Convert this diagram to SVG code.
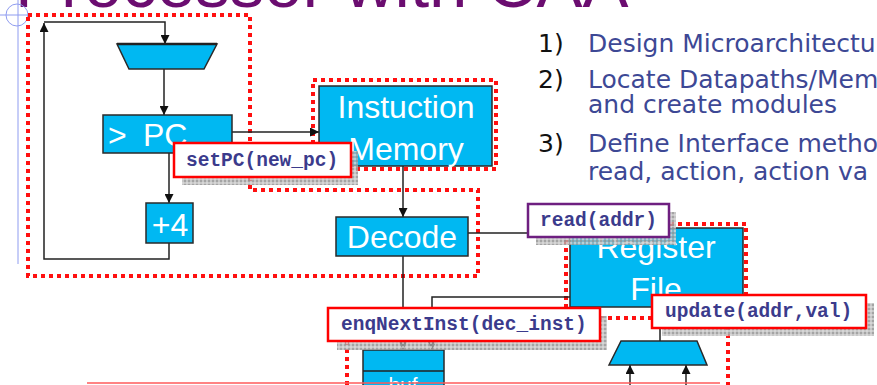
<svg xmlns="http://www.w3.org/2000/svg" width="877" height="385" viewBox="0 0 877 385">
  <style>
    .blk { fill: #00b8f2; stroke: #2a2a2a; stroke-width: 1.5; }
    .blk-t { fill: #ffffff; font-family: "Liberation Sans", Arial, sans-serif; font-size: 32px; text-anchor: middle; }
    .wire { fill: none; stroke: #222222; stroke-width: 1.5; }
    .region { fill: none; stroke: #ff1010; stroke-width: 4; stroke-dasharray: 4 4; }
    .lbl { fill: #ffffff; stroke: #ff0000; stroke-width: 2.5; }
    .lbl-p { fill: #ffffff; stroke: #6e1f80; stroke-width: 2.5; }
    .lbl-t { fill: #3b3b8c; font-family: "Liberation Mono", "Courier New", monospace; font-weight: bold; font-size: 19.5px; }
    .shadow { fill: url(#chk); }
    .list { font-family: "DejaVu Sans", Verdana, sans-serif; font-size: 25px; fill: #3d4895; }
    .num { font-family: "DejaVu Sans", Verdana, sans-serif; font-size: 25px; fill: #111111; }
  </style>
  <defs>
    <pattern id="chk" width="4" height="4" patternUnits="userSpaceOnUse">
      <rect width="4" height="4" fill="#b4b4b4" fill-opacity="0.75"/>
      <rect width="2" height="2" fill="#8c8c8c" fill-opacity="0.6"/>
      <rect x="2" y="2" width="2" height="2" fill="#e0e0e0" fill-opacity="0.6"/>
    </pattern>
    <marker id="arr" viewBox="0 0 10 10" refX="10" refY="5" markerWidth="9" markerHeight="9" markerUnits="userSpaceOnUse" orient="auto">
      <path d="M0,0 L10,5 L0,10 Z" fill="#111111"/>
    </marker>
  </defs>

  <rect width="877" height="385" fill="#ffffff"/>

  <!-- slide title, mostly above the top edge -->
  <text x="15" y="7" font-family="'Liberation Sans', Arial, sans-serif" font-size="69" fill="#6b0d70">Processor with CAA</text>

  <!-- guide crosshair -->
  <g stroke="#8f9cf0" stroke-width="1" fill="none">
    <circle cx="17" cy="15" r="11"/>
    <line x1="18" y1="0" x2="18" y2="264"/>
    <line x1="0" y1="15" x2="30" y2="15"/>
  </g>

  <!-- numbered steps -->
  <g id="steps">
    <text class="num" x="538" y="52">1)</text>
    <text class="list" x="588" y="52">Design Microarchitectu</text>
    <text class="num" x="538" y="88">2)</text>
    <text class="list" x="588" y="88">Locate Datapaths/Mem</text>
    <text class="list" x="588" y="113">and create modules</text>
    <text class="num" x="538" y="152">3)</text>
    <text class="list" x="588" y="152">Define Interface metho</text>
    <text class="list" x="588" y="180">read, action, action va</text>
  </g>

  <!-- module regions -->
  <g id="regions">
    <path class="region" d="M28,15 H250 V190 H478 V276 H28 Z"/>
    <rect class="region" x="313" y="80" width="183" height="89"/>
    <rect class="region" x="566" y="224" width="180" height="94"/>
    <path class="region" d="M347,385 V318 H728 V385"/>
  </g>

  <!-- connectors -->
  <g id="connectors">
    <path class="wire" d="M44,22 H165 V44" marker-end="url(#arr)"/>
    <line class="wire" x1="164" y1="69" x2="164" y2="115" marker-end="url(#arr)"/>
    <line class="wire" x1="169" y1="153" x2="169" y2="203" marker-end="url(#arr)"/>
    <path class="wire" d="M169,243 V259 H44 V23" marker-end="url(#arr)"/>
    <line class="wire" x1="232" y1="132" x2="319" y2="132" marker-end="url(#arr)"/>
    <line class="wire" x1="403" y1="166" x2="403" y2="217" marker-end="url(#arr)"/>
    <line class="wire" x1="468" y1="233" x2="528" y2="233"/>
    <line class="wire" x1="403" y1="256" x2="403" y2="350" marker-end="url(#arr)"/>
    <path class="wire" d="M570,297 H432 V350" marker-end="url(#arr)"/>
    <line class="wire" x1="660" y1="328" x2="660" y2="341"/>
    <line class="wire" x1="630" y1="385" x2="630" y2="365" marker-end="url(#arr)"/>
    <line class="wire" x1="686" y1="385" x2="686" y2="365" marker-end="url(#arr)"/>
  </g>

  <!-- datapath blocks -->
  <g id="pc-mux">
    <polygon class="blk" points="117,44 217,44 204,69 129,69"/>
    <line x1="117" y1="44" x2="217" y2="44" stroke="#222" stroke-width="2.5"/>
  </g>
  <g id="pc">
    <rect class="blk" x="103" y="115" width="129" height="38"/>
    <text x="108" y="146" fill="#fff" font-family="'Liberation Sans', Arial, sans-serif" font-size="32">&gt;</text>
    <text x="143" y="146" fill="#fff" font-family="'Liberation Sans', Arial, sans-serif" font-size="32">PC</text>
  </g>
  <g id="plus4">
    <rect class="blk" x="146" y="203" width="47" height="40"/>
    <text class="blk-t" x="170" y="236">+4</text>
  </g>
  <g id="imem">
    <rect class="blk" x="319" y="86" width="173" height="80"/>
    <text class="blk-t" x="406" y="118" font-size="33">Instuction</text>
    <text class="blk-t" x="406" y="160" font-size="33">Memory</text>
  </g>
  <g id="decode">
    <rect class="blk" x="336" y="217" width="132" height="39"/>
    <text class="blk-t" x="402" y="248" font-size="34">Decode</text>
  </g>
  <g id="regfile">
    <rect class="blk" x="570" y="228" width="173" height="79"/>
    <text class="blk-t" x="656" y="258" font-size="33">Register</text>
    <text class="blk-t" x="656" y="300" font-size="33">File</text>
  </g>
  <g id="buf">
    <rect class="blk" x="363" y="350" width="81" height="40"/>
    <line x1="363" y1="371" x2="444" y2="371" stroke="#222" stroke-width="1.5"/>
    <text x="403" y="392" fill="#fff" font-family="'Liberation Sans', Arial, sans-serif" font-size="21" text-anchor="middle">buf</text>
  </g>
  <g id="wb-mux">
    <polygon class="blk" points="621,341 697,341 707,365 609,365"/>
  </g>

  <line x1="87" y1="383" x2="720" y2="383" stroke="#ff5a5a" stroke-width="1.5"/>

  <!-- interface method labels -->
  <g id="setPC">
    <path class="shadow" d="M351,151 H358 V185 H182 V177 H351 Z"/>
    <rect class="lbl" x="174" y="143" width="177" height="34"/>
    <text class="lbl-t" x="186" y="166">setPC(new_pc)</text>
  </g>
  <g id="read">
    <path class="shadow" d="M669,212 H676 V245 H536 V237 H669 Z"/>
    <rect class="lbl-p" x="528" y="204" width="141" height="33"/>
    <text class="lbl-t" x="540" y="226">read(addr)</text>
  </g>
  <g id="enqNextInst">
    <path class="shadow" d="M600,316 H607 V350 H337 V341 H600 Z"/>
    <rect class="lbl" x="328" y="308" width="272" height="33"/>
    <text class="lbl-t" x="341" y="330">enqNextInst(dec_inst)</text>
  </g>
  <g id="update">
    <path class="shadow" d="M866,303 H874 V336 H662 V328 H866 Z"/>
    <rect class="lbl" x="652" y="295" width="214" height="33"/>
    <text class="lbl-t" x="665" y="317">update(addr,val)</text>
  </g>
</svg>
